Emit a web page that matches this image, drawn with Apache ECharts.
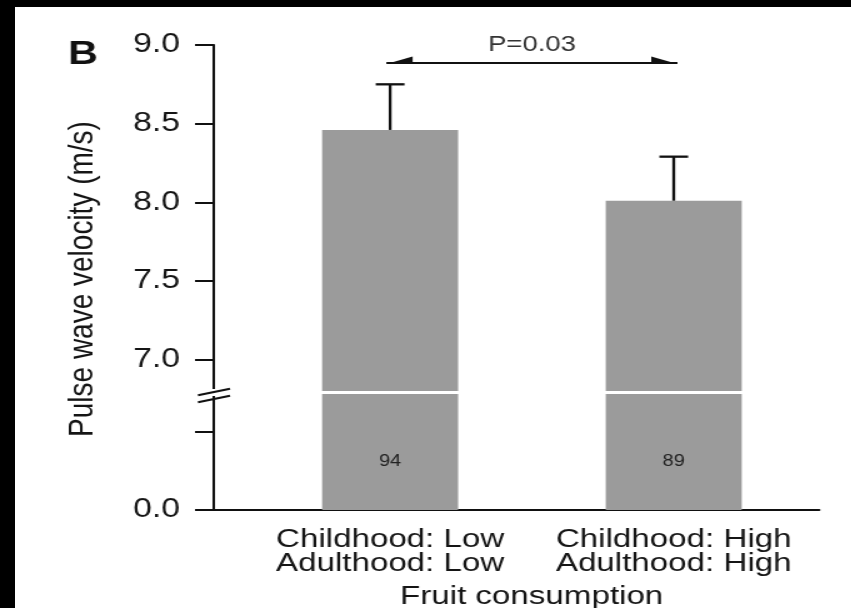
<!DOCTYPE html>
<html>
<head>
<meta charset="utf-8">
<script src="https://cdn.jsdelivr.net/npm/echarts@6/dist/echarts.min.js"></script>
<style>
  html, body { margin: 0; padding: 0; background: #000; width: 851px; height: 608px; overflow: hidden; }
  #sheet { position: absolute; left: 15px; top: 7px; width: 836px; height: 601px; background: #fff; overflow: hidden; }
  /* the figure is laid out on a narrower canvas and widened horizontally */
  #chart { position: absolute; left: 0; top: 0; width: 669px; height: 601px; transform: scaleX(1.25); transform-origin: 0 0; }
</style>
</head>
<body>
<div id="sheet"><div id="chart"></div></div>
<script>
// Fruit consumption groups (childhood / adulthood)
const childhood = ['Low', 'High'];
const adulthood = ['Low', 'High'];
const categories = childhood.map((c, i) => 'Childhood: ' + c + '\nAdulthood: ' + adulthood[i]);

// Pulse wave velocity (m/s): group means and standard errors
const pwvMean = [8.46, 8.01];
const pwvSem = [0.29, 0.28];

// Number of subjects per group
const sampleSizes = [94, 89];

// Group comparison
const comparePair = [0, 1];
const compareLabel = 'P=0.03';

// Y-axis ticks (upper, broken segment) and lower segment
const yTicks = [7.0, 7.5, 8.0, 8.5, 9.0];
const yTickLabels = ['7.0', '7.5', '8.0', '8.5', '9.0'];
const yLowerTicks = [0.0, 0.5];
const yLowerTickLabels = ['0.0', ''];

const FONT = '"Liberation Sans", Arial, Helvetica, sans-serif';
const INK = '#151515';
const BAR = '#9b9b9b';

const chart = echarts.init(document.getElementById('chart'), null, { renderer: 'canvas' });

const xIdx = categories.map((_, i) => i);
const upperMin = 6.8, upperMax = 9.0;
const lowerMax = 0.739;
const xMin = -0.621, xMax = 1.513;
const TICK = 15.2;

const baseX = {
  type: 'value', min: xMin, max: xMax,
  splitLine: { show: false }, axisTick: { show: false }
};

const yAxisCommon = {
  type: 'value',
  splitLine: { show: false },
  axisLine: { show: true, onZero: false, lineStyle: { color: '#111', width: 2 } }
};

const option = {
  animation: false,
  backgroundColor: '#fff',
  grid: [
    { left: 159.2, right: 25.6, top: 38, height: 346, containLabel: false, outerBoundsMode: 'none' },
    { left: 159.2, right: 25.6, top: 387, height: 116, containLabel: false, outerBoundsMode: 'none' }
  ],
  xAxis: [
    Object.assign({ gridIndex: 0, show: false }, baseX),
    Object.assign({ gridIndex: 1 }, baseX, {
      axisLine: { show: true, onZero: false, lineStyle: { color: '#111', width: 2 } },
      axisLabel: {
        customValues: xIdx,
        formatter: v => categories[Math.round(v)],
        color: INK, fontFamily: FONT, fontSize: 26.5, lineHeight: 24, margin: 18
      },
      name: 'Fruit consumption',
      nameLocation: 'middle',
      nameGap: 73,
      nameTextStyle: { color: INK, fontFamily: FONT, fontSize: 26.5, padding: [0, 0, 0, 24] }
    })
  ],
  yAxis: [
    Object.assign({ gridIndex: 0, min: upperMin, max: upperMax }, yAxisCommon, {
      axisTick: { show: true, customValues: yTicks, length: TICK, lineStyle: { color: '#111', width: 2 } },
      axisLabel: {
        customValues: yTicks,
        formatter: v => yTickLabels[yTicks.findIndex(t => Math.abs(t - v) < 1e-6)],
        color: INK, fontFamily: FONT, fontSize: 27, margin: TICK + 12
      }
    }),
    Object.assign({ gridIndex: 1, min: 0, max: lowerMax }, yAxisCommon, {
      axisTick: { show: true, customValues: yLowerTicks, length: TICK, lineStyle: { color: '#111', width: 2 } },
      axisLabel: {
        customValues: [yLowerTicks[0]],
        formatter: v => yLowerTickLabels[yLowerTicks.findIndex(t => Math.abs(t - v) < 1e-6)],
        color: INK, fontFamily: FONT, fontSize: 27, margin: TICK + 12
      }
    })
  ],
  graphic: [
    {
      type: 'text', x: 54.5, y: 47.5,
      style: { text: 'B', font: 'bold 33px ' + FONT, fill: '#111', align: 'center', verticalAlign: 'middle' }
    },
    {
      type: 'text', x: 54.4, y: 272, rotation: Math.PI / 2,
      style: { text: 'Pulse wave velocity (m/s)', font: '28px ' + FONT, fill: INK, align: 'center', verticalAlign: 'middle' }
    }
  ],
  series: [
    {
      type: 'bar', xAxisIndex: 0, yAxisIndex: 0, barWidth: 108.8,
      itemStyle: { color: BAR },
      data: xIdx.map(i => [i, pwvMean[i]])
    },
    {
      type: 'bar', xAxisIndex: 1, yAxisIndex: 1, barWidth: 108.8,
      itemStyle: { color: BAR },
      label: {
        show: true, position: 'inside', offset: [0, 10],
        formatter: p => String(sampleSizes[p.dataIndex]),
        color: '#222', fontFamily: FONT, fontSize: 16
      },
      data: xIdx.map(i => [i, pwvMean[i]])
    },
    {
      // upper error whiskers
      type: 'custom', xAxisIndex: 0, yAxisIndex: 0, z: 5,
      data: xIdx.map(i => [i, pwvMean[i], pwvSem[i]]),
      renderItem(params, api) {
        const x = api.value(0), m = api.value(1), e = api.value(2);
        const b = api.coord([x, m]);
        const t = api.coord([x, m + e]);
        const half = 11.5;
        const st = { stroke: '#111', lineWidth: 2.3 };
        return {
          type: 'group',
          children: [
            { type: 'line', shape: { x1: b[0], y1: b[1], x2: t[0], y2: t[1] }, style: st },
            { type: 'line', shape: { x1: t[0] - half, y1: t[1], x2: t[0] + half, y2: t[1] }, style: st }
          ]
        };
      }
    },
    {
      // comparison arrow with p-value
      type: 'custom', xAxisIndex: 0, yAxisIndex: 0, z: 5,
      data: [[comparePair[0], comparePair[1]]],
      renderItem(params, api) {
        const a = api.coord([api.value(0), 8.885]);
        const b = api.coord([api.value(1), 8.885]);
        const xl = a[0] - 3, xr = b[0] + 3, y = a[1];
        const head = 21, hh = 6.5;
        return {
          type: 'group',
          children: [
            { type: 'line', shape: { x1: xl, y1: y, x2: xr, y2: y }, style: { stroke: '#111', lineWidth: 2 } },
            { type: 'polygon', shape: { points: [[xl, y + 1], [xl + head, y - hh], [xl + head, y + 1]] }, style: { fill: '#111' } },
            { type: 'polygon', shape: { points: [[xr, y + 1], [xr - head, y - hh], [xr - head, y + 1]] }, style: { fill: '#111' } },
            {
              type: 'text', x: (xl + xr) / 2, y: y - 18,
              style: { text: compareLabel, font: '22px ' + FONT, fill: '#333', align: 'center', verticalAlign: 'middle' }
            }
          ]
        };
      }
    },
    {
      // axis break marks
      type: 'custom', xAxisIndex: 0, yAxisIndex: 0, z: 6,
      data: [[xMin, upperMin]],
      renderItem(params, api) {
        const p = api.coord([api.value(0), api.value(1)]);
        const x = p[0], y = p[1];
        const w = 12.8, rise = 3.2;
        const st = { stroke: '#111', lineWidth: 2 };
        return {
          type: 'group',
          children: [
            { type: 'rect', shape: { x: x - 2, y: y - 2, width: 4, height: 7 }, style: { fill: '#fff' } },
            { type: 'line', shape: { x1: x - w, y1: y + 1 + rise, x2: x + w, y2: y + 1 - rise }, style: st },
            { type: 'line', shape: { x1: x - w, y1: y + 8 + rise, x2: x + w, y2: y + 8 - rise }, style: st }
          ]
        };
      }
    }
  ]
};

chart.setOption(option);
</script>
</body>
</html>
